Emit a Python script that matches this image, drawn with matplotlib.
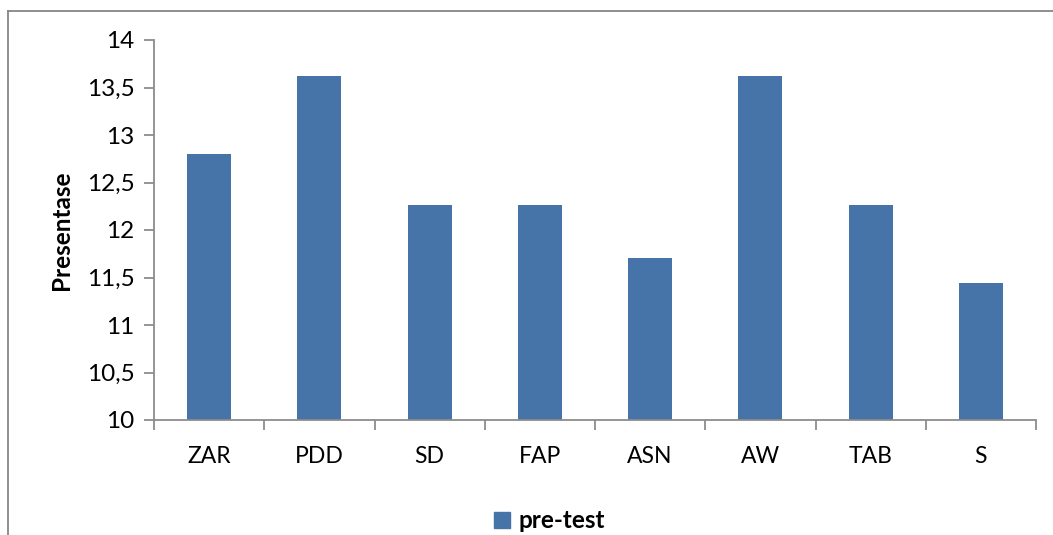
import matplotlib
matplotlib.use("Agg")
import matplotlib.pyplot as plt
from matplotlib.lines import Line2D
from matplotlib.ticker import FixedLocator, FuncFormatter
import numpy as np

categories = ["ZAR", "PDD", "SD", "FAP", "ASN", "AW", "TAB", "S"]
pretest = [12.8, 13.62, 12.26, 12.26, 11.71, 13.62, 12.26, 11.44]
yticks = [10, 10.5, 11, 11.5, 12, 12.5, 13, 13.5, 14]

plt.rcParams['font.family'] = ['Lato', 'DejaVu Sans']

W, H = 1053, 535
fig = plt.figure(figsize=(W/100, H/100), dpi=100)
ax = fig.add_axes([154/W, 1 - 420/H, (1036-154)/W, (420-40)/H])

x = np.arange(len(categories))
bar_color = "#4673A8"
ax.bar(x, pretest, width=0.4, color=bar_color, zorder=2)

ax.set_xlim(-0.5, len(categories) - 0.5)
ax.set_ylim(10, 14)
ax.yaxis.set_major_locator(FixedLocator(yticks))
ax.yaxis.set_major_formatter(FuncFormatter(lambda v, p: (f"{v:g}").replace(".", ",")))
ax.set_xticks(x)
ax.set_xticklabels(categories)
ax.xaxis.set_minor_locator(FixedLocator(np.arange(-0.5, len(categories), 1.0)))

spine_c = "#8c8c8c"
for s in ["top", "right"]:
    ax.spines[s].set_visible(False)
for s in ["left", "bottom"]:
    ax.spines[s].set_color(spine_c)
    ax.spines[s].set_linewidth(1.3)

ax.tick_params(axis="y", which="major", direction="out", length=7, width=1.3,
               color=spine_c, labelsize=17.5, pad=7, labelcolor="black")
ax.tick_params(axis="x", which="major", length=0, labelsize=16.5, pad=19, labelcolor="black")
ax.tick_params(axis="x", which="minor", direction="out", length=7, width=1.3, color=spine_c)

ax.set_ylabel("Presentase", fontsize=17.5, fontweight="bold", labelpad=10)

# outer border (partially cropped chart frame)
border_c = "#868686"
fig.add_artist(Line2D([8/W, 1.0], [1 - 11/H, 1 - 11/H], transform=fig.transFigure,
                      color=border_c, linewidth=1.3))
fig.add_artist(Line2D([8/W, 8/W], [0, 1 - 11/H], transform=fig.transFigure,
                      color=border_c, linewidth=1.3))

handle = Line2D([], [], marker="s", linestyle="none", markersize=11,
                markerfacecolor=bar_color, markeredgecolor=bar_color)
fig.legend([handle], ["pre-test"], loc="center", bbox_to_anchor=(548/W, 1 - 521/H),
           frameon=False, prop={"size": 17.5, "weight": "bold"}, handletextpad=0.2,
           handlelength=0.9, borderpad=0.1)

fig.savefig("out.png", dpi=100)
